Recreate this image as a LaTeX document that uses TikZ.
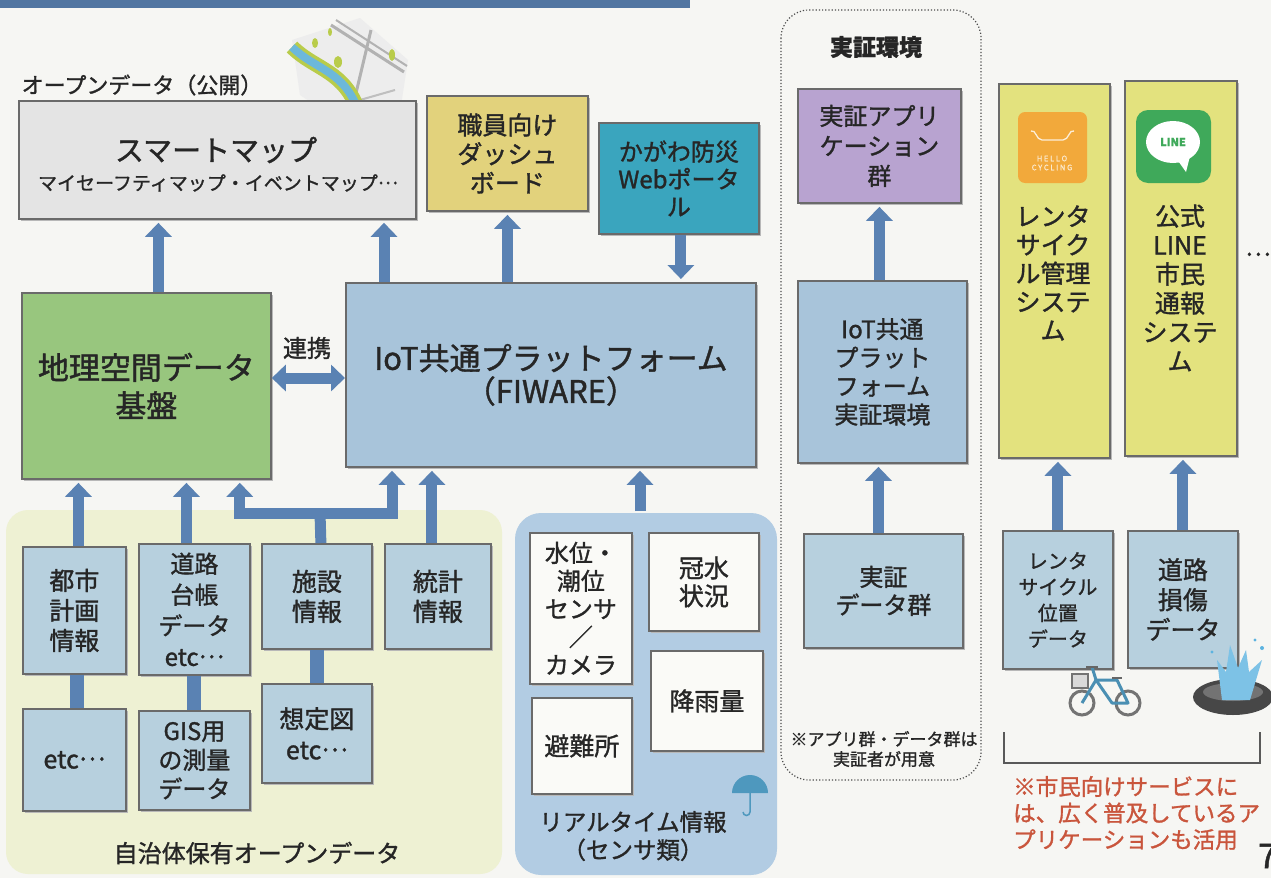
\documentclass[tikz,border=0pt]{standalone}
\usepackage{fontspec}
\setmainfont{Noto Sans CJK JP}[FakeBold=1.3]
\usetikzlibrary{arrows.meta,shadows}

\definecolor{paper}{HTML}{F6F6F3}
\definecolor{flow}{HTML}{5A82B3}
\definecolor{edge}{HTML}{6A6A6A}
\definecolor{mapgray}{HTML}{E4E4E4}
\definecolor{dashyel}{HTML}{E2D27C}
\definecolor{portal}{HTML}{3AA5BE}
\definecolor{geogreen}{HTML}{98C67E}
\definecolor{iotblue}{HTML}{A8C4DA}
\definecolor{appviolet}{HTML}{B8A3D0}
\definecolor{colyel}{HTML}{E3E27E}
\definecolor{srcblue}{HTML}{B7D0DE}
\definecolor{rtblue}{HTML}{B2CCE3}
\definecolor{opengreen}{HTML}{EEF1D3}
\definecolor{cardwhite}{HTML}{FAFAF7}
\definecolor{notered}{HTML}{C9553C}
\definecolor{hello}{HTML}{F2A93B}
\definecolor{linegreen}{HTML}{3FA95A}
\definecolor{water}{HTML}{5CB3E0}
\definecolor{river}{HTML}{6CB8DA}
\definecolor{riverbank}{HTML}{B9CC4A}

\newcommand{\pxfont}[2]{\fontsize{#1}{#2}\selectfont}
\newcommand{\middots}{\raisebox{0.32em}{…}}

\begin{document}
\begin{tikzpicture}[x=1pt,y=-1pt,
  box/.style={draw=edge, line width=1.8pt, anchor=north west, inner sep=0pt,
              align=center, text=black!85,
              general shadow={fill=black!28, shadow xshift=2pt, shadow yshift=-2pt}},
  up/.style={draw=flow, line width=11pt, -{Triangle[width=26pt,length=14pt]},
             shorten >=3pt},
  both/.style={draw=flow, line width=11pt,
             {Triangle[width=26pt,length=14pt]}-{Triangle[width=26pt,length=14pt]}},
  link/.style={draw=flow, line width=14pt},
  txt/.style={inner sep=0pt, text=black!85, align=center}]

\useasboundingbox (0,0) rectangle (1271,878);
\fill[paper] (0,0) rectangle (1271,878);
\fill[flow!90!black] (0,0) rectangle (690,8);

% ---------- published open data ----------
\node[txt, font=\pxfont{22}{22}] (openlbl) at (142,85) {オープンデータ（公開）};

% small map illustration
\fill[black!7] (292,40) -- (360,18) -- (408,60) -- (400,112) -- (340,122) -- (300,95) -- cycle;
\draw[black!30, line width=3pt] (331,25) -- (404,72);
\draw[black!30, line width=2pt] (336,20) -- (407,66);
\draw[black!30, line width=3pt] (371,30) -- (352,110);
\draw[black!25, line width=2pt] (318,112) -- (395,90);
\draw[riverbank, line width=15pt] (292,47) .. controls (315,70) and (345,70) .. (359,113);
\draw[river, line width=8pt] (292,47) .. controls (315,70) and (345,70) .. (359,113);
\fill[riverbank] (315,43) ellipse (3 and 5);
\fill[riverbank] (338,62) ellipse (4 and 6);
\fill[riverbank] (392,55) ellipse (3 and 6);
\fill[riverbank] (330,32) ellipse (2 and 4);

\node[box, fill=mapgray, minimum width=397pt, minimum height=118pt] (smap) at (18,100) {};
\node[txt, font=\pxfont{29}{29}] (smaptitle) at (216,150) {スマートマップ};
\node[txt, font=\pxfont{19}{19}] (smapsub) at (218,183) {マイセーフティマップ・イベントマップ\middots};

\node[box, fill=dashyel, minimum width=161pt, minimum height=115pt, font=\pxfont{25}{29}]
  (dash) at (426,95) {職員向け\\ダッシュ\\ボード};
\node[box, fill=portal, minimum width=160pt, minimum height=111pt, font=\pxfont{24}{27.5}]
  (portal) at (598,122) {かがわ防災\\Webポータ\\ル};

% ---------- platforms ----------
\node[box, fill=geogreen, minimum width=249pt, minimum height=186pt, font=\pxfont{31}{38}]
  (geo) at (21,292) {地理空間データ\\基盤};
\node[box, fill=iotblue, minimum width=410pt, minimum height=184pt, font=\pxfont{31}{33}]
  (iot) at (345,282) {IoT共通プラットフォーム\\（FIWARE）};
\node[txt, font=\pxfont{24}{24}] (renkei) at (307,348) {連携};

\draw[up] ([xshift=12pt]geo.north) -- ([xshift=12pt]geo.north |- smap.south);
\draw[up] ([xshift=39pt]iot.north west) -- ([xshift=39pt]iot.north west |- smap.south);
\draw[up] (dash.south |- iot.north) -- (dash.south);
\draw[up] ([xshift=2pt]portal.south) -- ([xshift=2pt]portal.south |- iot.north);
\draw[both] (iot.west |- 0,378) -- (geo.east |- 0,378);

% ---------- proof-of-concept environment ----------
\draw[black!70, line width=1.2pt, dotted, rounded corners=28pt] (781,10) rectangle (981,780);
\node[txt, font=\bfseries\pxfont{23}{23}] (pocl) at (876,47) {実証環境};
\node[box, fill=appviolet, minimum width=163pt, minimum height=114pt, font=\pxfont{24}{30}]
  (app) at (797,88) {実証アプリ\\ケーション\\群};
\node[box, fill=iotblue, minimum width=169pt, minimum height=182pt, font=\pxfont{24}{28.5}]
  (piot) at (797,280) {IoT共通\\プラット\\フォーム\\実証環境};
\node[box, fill=srcblue, minimum width=159pt, minimum height=114pt, font=\pxfont{24}{28}]
  (pdata) at (803,533) {実証\\データ群};
\node[txt, font=\pxfont{17}{20}] (pnote) at (884,749) {※アプリ群・データ群は\\実証者が用意};
\draw[up] (app.south |- piot.north) -- (app.south);
\draw[up] ([xshift=-5pt]pdata.north) -- ([xshift=-5pt]pdata.north |- piot.south);

% ---------- citizen services ----------
\node[box, fill=colyel, minimum width=111pt, minimum height=374pt] (cycle) at (998,83) {};
\node[box, fill=colyel, minimum width=112pt, minimum height=375pt] (linecol) at (1124,80) {};

\fill[hello, rounded corners=7pt] (1018,112) rectangle (1087,183);
\draw[white!80!hello, line width=1.3pt] (1031,131) .. controls (1036,129) and (1036,140) .. (1042,140)
  -- (1063,140) .. controls (1069,140) and (1069,129) .. (1074,131);
\node[txt, text=white!75!hello, font=\pxfont{7.5}{9}] (hellotxt) at (1052,163) {H E L L O\\C Y C L I N G};

\fill[linegreen, rounded corners=12pt] (1136,110) rectangle (1211,183);
\fill[white] (1173,142) ellipse (27 and 21);
\fill[white] (1176,158) -- (1186,172) -- (1190,156) -- cycle;
\node[txt, text=linegreen, font=\bfseries\pxfont{11}{11}] (linetxt) at (1173,142) {LINE};

\node[txt, font=\pxfont{25}{28.5}] (cycletxt) at (1053,273) {レンタ\\サイク\\ル管理\\システ\\ム};
\node[txt, font=\pxfont{25}{29}] (linetxtcol) at (1180,288) {公式\\LINE\\市民\\通報\\システ\\ム};
\node[txt, font=\pxfont{24}{24}] (more) at (1258,258) {\middots};

\node[box, fill=srcblue, minimum width=110pt, minimum height=138pt, font=\pxfont{20}{26}]
  (cyclepos) at (1002,530) {レンタ\\サイクル\\位置\\データ};
\node[box, fill=srcblue, minimum width=110pt, minimum height=137pt, font=\pxfont{25}{30}]
  (damage) at (1127,530) {道路\\損傷\\データ};
\draw[up] (cyclepos.north) -- (cyclepos.north |- cycle.south);
\draw[up] (damage.north) -- (damage.north |- linecol.south);

% bicycle
\draw[black!55, line width=3pt] (1082,703) circle (12);
\draw[black!55, line width=3pt] (1128,703) circle (12);
\draw[water!80!black, line width=3pt, line join=round]
  (1082,703) -- (1096,680) -- (1112,703) -- (1128,703) -- (1117,680) -- (1096,680);
\draw[water!80!black, line width=3pt] (1096,680) -- (1092,667);
\draw[black!60, line width=2pt] (1086,667) -- (1098,667);
\draw[black!60, line width=2pt] (1112,678) -- (1122,678);
\draw[black!55, line width=1.5pt, fill=black!15] (1072,674) rectangle (1088,688);

% pothole with splashing water
\fill[black!72] (1233,697) ellipse (40 and 18);
\fill[black!55] (1233,692) ellipse (30 and 9);
\fill[water!80] (1222,700) -- (1217,660) -- (1226,672) -- (1230,645) -- (1238,668)
  -- (1246,650) -- (1249,672) -- (1262,660) -- (1250,700) -- cycle;
\fill[water] (1262,648) circle (2); \fill[water] (1255,640) circle (1.6);
\fill[water] (1212,652) circle (1.6);

% bracket and remark
\draw[black!65, line width=2.5pt] (1004,732) -- (1004,763) -- (1260,763) -- (1260,732);
\node[txt, text=notered, anchor=west, align=left, font=\pxfont{22.5}{26.5}] (citizen) at (1013,813)
  {※市民向けサービスに\\は、広く普及しているア\\プリケーションも活用};
\node[txt, font=\pxfont{34}{34}, anchor=west] (pageno) at (1258,856) {7};

% ---------- municipal open data ----------
\fill[opengreen, rounded corners=22pt] (6,510) rectangle (502,874);
\node[txt, font=\pxfont{24}{24}] (openmuni) at (257,853) {自治体保有オープンデータ};

\node[box, fill=srcblue, minimum width=103pt, minimum height=127pt, font=\pxfont{25}{30}]
  (toshi) at (22,546) {都市\\計画\\情報};
\node[box, fill=srcblue, minimum width=111pt, minimum height=131pt, font=\pxfont{24}{31}]
  (douro) at (138,543) {道路\\台帳\\データ\\etc\middots};
\node[box, fill=srcblue, minimum width=110pt, minimum height=105pt, font=\pxfont{25}{30}]
  (shisetsu) at (261,543) {施設\\情報};
\node[box, fill=srcblue, minimum width=106pt, minimum height=105pt, font=\pxfont{25}{30}]
  (toukei) at (384,543) {統計\\情報};
\node[box, fill=srcblue, minimum width=103pt, minimum height=102pt, font=\pxfont{25}{30}]
  (etc) at (22,708) {etc\middots};
\node[box, fill=srcblue, minimum width=111pt, minimum height=99pt, font=\pxfont{24}{29}]
  (gis) at (138,710) {GIS用\\の測量\\データ};
\node[box, fill=srcblue, minimum width=110pt, minimum height=99pt, font=\pxfont{25}{31}]
  (soutei) at (261,683) {想定図\\etc\middots};

\draw[link] ([xshift=3pt]toshi.south) -- ([xshift=3pt]toshi.south |- etc.north);
\draw[link] (douro.south) -- (douro.south |- gis.north);
\draw[link] (shisetsu.south) -- (shisetsu.south |- soutei.north);

\coordinate (tee) at (320,513);
\draw[up] ([xshift=4pt]toshi.north) -- ([xshift=4pt]toshi.north |- geo.south);
\draw[up] ([xshift=-8pt]douro.north) -- ([xshift=-8pt]douro.north |- geo.south);
\draw[link, line width=11pt] ([xshift=4pt]shisetsu.north) -- (tee);
\draw[up] ([xshift=-6pt]tee -| shisetsu.west) -| ([xshift=-32pt]geo.south east);
\draw[up] ([xshift=6pt]tee -| shisetsu.east) -| ([xshift=47pt]iot.south west);
\draw[link, line width=11pt] ([xshift=-6pt]tee -| shisetsu.west) -- ([xshift=6pt]tee -| shisetsu.east);
\draw[up] ([xshift=-6pt]toukei.north) -- ([xshift=-6pt]toukei.north |- iot.south);

% ---------- real-time sensor data ----------
\fill[rtblue, rounded corners=26pt] (515,513) rectangle (777,875);
\node[box, fill=cardwhite, minimum width=102pt, minimum height=151pt, font=\pxfont{24}{28}]
  (level) at (529,532) {水位・\\潮位\\センサ\\／\\カメラ};
\node[box, fill=cardwhite, minimum width=110pt, minimum height=98pt, font=\pxfont{25}{28}]
  (flood) at (648,532) {冠水\\状況};
\node[box, fill=cardwhite, minimum width=100pt, minimum height=96pt, font=\pxfont{25}{25}]
  (shelter) at (531,697) {避難所};
\node[box, fill=cardwhite, minimum width=112pt, minimum height=100pt, font=\pxfont{25}{25}]
  (rain) at (650,650) {降雨量};
\node[txt, font=\pxfont{23.5}{28}] (rtlbl) at (633,836) {リアルタイム情報\\（センサ類）};
\coordinate (rttop) at (640,511);
\draw[up] (rttop) -- (rttop |- iot.south);

% umbrella
\fill[water!85!black] (732,793) arc (180:360:18) -- cycle;
\draw[water!85!black, line width=1.5pt] (750,793) -- (750,812) arc (0:180:3.5);

\end{tikzpicture}
\end{document}
